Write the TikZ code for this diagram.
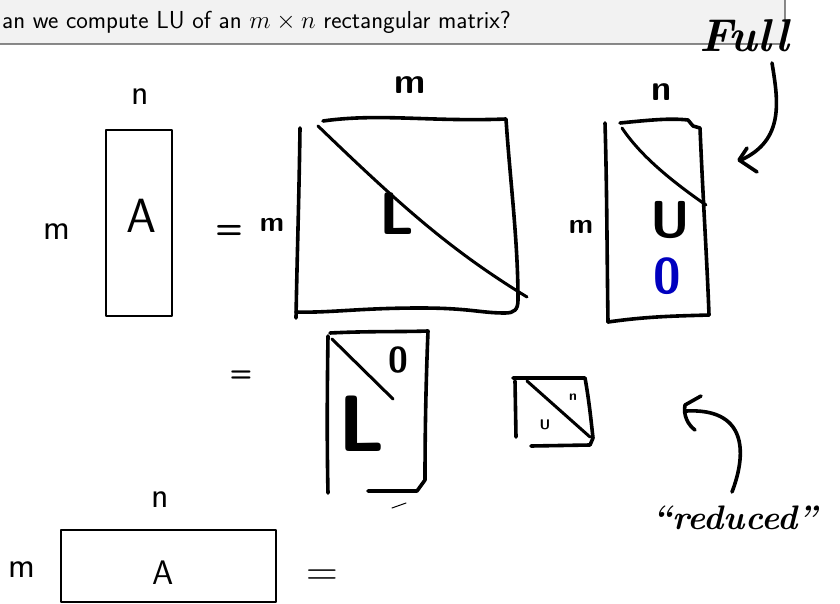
\documentclass[tikz,border=0pt]{standalone}
\usepackage{fontspec}
\begin{document}
\begin{tikzpicture}[x=1pt,y=-1pt,
  ink/.style={line width=3.6pt,line cap=round,line join=round,black},
  typed/.style={line width=2.6pt,line join=round,black},
  lbl/.style={font=\sffamily\fontsize{36}{40}\selectfont,inner sep=0pt},
  hand/.style={font=\sffamily\bfseries\fontsize{32}{36}\selectfont,inner sep=0pt},
  handsmall/.style={font=\sffamily\bfseries\fontsize{14}{16}\selectfont,inner sep=0pt}]
\useasboundingbox (0,0) rectangle (840,604);
% title bar
\draw[fill=gray!10,draw=gray!60!black,line width=1.4pt,rounded corners=4pt] (-10,-10) rectangle (785,44);
\node[anchor=base west,inner sep=0pt,font=\sffamily\fontsize{24.6}{28}\selectfont] (title) at (2,29) {an we compute LU of an $m\times n$ rectangular matrix?};
\node[inner sep=0pt,font=\itshape\bfseries\fontsize{46}{50}\selectfont] (full) at (744,36) {Full};
% first row: A
\node[lbl] (n1) at (140,97) {n};
\node[lbl] (m1) at (57,232) {m};
\draw[typed] (106,130) rectangle (172,316);
\node[hand,font=\sffamily\fontsize{48}{52}\selectfont] (A1) at (141,216) {A};
\node[hand] (eq1) at (229,232) {=};
\node[hand,font=\sffamily\bfseries\fontsize{28}{32}\selectfont] (m2) at (272,225) {m};
% L square
\draw[ink] (300,128) .. controls (299,200) and (297,260) .. (296,318);
\draw[ink] (323,121) .. controls (380,113) and (430,122) .. (506,119) .. controls (510,180) and (518,240) .. (518,300) .. controls (518,310) and (514,313) .. (505,313) .. controls (480,313) and (470,308) .. (420,308) .. controls (360,308) and (330,313) .. (296,312);
\draw[ink,line width=3pt] (318,126) .. controls (400,205) and (450,250) .. (527,297);
\node[hand,font=\sffamily\bfseries\fontsize{60}{64}\selectfont] (L1) at (397,214) {L};
\node[hand,font=\sffamily\bfseries\fontsize{36}{40}\selectfont] (mtop) at (410,85) {m};
% U rect
\node[hand,font=\sffamily\bfseries\fontsize{28}{32}\selectfont] (m3) at (581,227) {m};
\node[hand,font=\sffamily\bfseries\fontsize{36}{40}\selectfont] (ntop) at (662,92) {n};
\draw[ink] (605,123) .. controls (607,190) and (607,260) .. (608,322);
\draw[ink] (620,123) .. controls (650,120) and (670,118) .. (688,120) -- (693,126) -- (700,128) .. controls (703,200) and (707,260) .. (709,315);
\draw[ink] (608,322) .. controls (650,316) and (680,316) .. (709,315);
\draw[ink,line width=3pt] (622,128) .. controls (640,155) and (670,180) .. (706,205);
\node[hand,font=\sffamily\bfseries\fontsize{52}{56}\selectfont] (U1) at (670,220) {U};
\node[hand,text=blue!75!black,font=\sffamily\bfseries\fontsize{50}{54}\selectfont] (zero1) at (667,276) {0};
% Full arrow
\coordinate (fa1) at (772,63);
\coordinate (fa2) at (741,160);
\draw[ink] (fa1) .. controls (778,100) and (785,140) .. (fa2);
\draw[ink] (747,148) -- (739,160) -- (757,172);
% second row
\node[hand,font=\sffamily\bfseries\fontsize{26}{30}\selectfont] (eq2) at (241,376) {=};
\draw[ink] (328,336) .. controls (327,400) and (327,450) .. (328,493);
\draw[ink] (330,333) .. controls (370,331) and (400,332) .. (428,331) .. controls (426,380) and (425,430) .. (425,480) -- (417,491) -- (368,491);
\draw[ink,line width=3pt] (332,339) -- (393,399);
\node[hand,font=\sffamily\bfseries\fontsize{36}{40}\selectfont] (zero2) at (398,360) {0};
\node[hand,font=\sffamily\bfseries\fontsize{80}{84}\selectfont] (L2) at (362,424) {L};
\draw[line width=1pt,line cap=round] (392,508) -- (406,503);
% small square
\draw[ink] (515,381) -- (516,437);
\draw[ink] (513,378) -- (585,378) .. controls (589,400) and (591,420) .. (593,438) -- (590,445) -- (531,446);
\draw[ink,line width=3pt] (527,381) -- (590,437);
\node[handsmall] (nsm) at (573,397) {n};
\node[handsmall] (usm) at (545,425) {U};
% reduced arrow
\coordinate (ra1) at (732,492);
\coordinate (ra2) at (686,411);
\draw[ink] (ra1) .. controls (748,450) and (745,408) .. (ra2);
\draw[ink] (701,396) -- (685,405) .. controls (683,415) and (688,425) .. (695,430);
\node[inner sep=0pt,font=\itshape\bfseries\fontsize{34}{38}\selectfont] (red) at (735,518) {``reduced''};
% bottom row
\node[lbl] (n4) at (160,500) {n};
\node[lbl] (m4) at (22,570) {m};
\draw[typed] (61,530) rectangle (276,602);
\node[hand,font=\sffamily\fontsize{34}{38}\selectfont] (A4) at (163,573) {A};
\node[inner sep=0pt,font=\fontsize{44}{48}\selectfont] (eq4) at (322,578) {=};
\end{tikzpicture}
\end{document}
